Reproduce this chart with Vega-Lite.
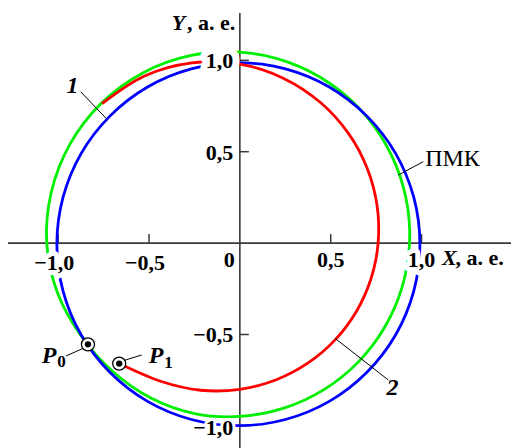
{
  "$schema": "https://vega.github.io/schema/vega-lite/v6.json",
  "width": 511,
  "height": 448,
  "padding": 0,
  "autosize": {"type": "none"},
  "background": "white",
  "config": {"view": {"stroke": null}},
  "datasets": {
    "blue": [
      {"i": 0, "x": 0.991, "y": -0.006}, {"i": 1, "x": 0.957, "y": 0.251}, {"i": 2, "x": 0.857, "y": 0.491},
      {"i": 3, "x": 0.698, "y": 0.696}, {"i": 4, "x": 0.492, "y": 0.854}, {"i": 5, "x": 0.251, "y": 0.953},
      {"i": 6, "x": -0.008, "y": 0.987}, {"i": 7, "x": -0.267, "y": 0.953}, {"i": 8, "x": -0.508, "y": 0.854},
      {"i": 9, "x": -0.714, "y": 0.696}, {"i": 10, "x": -0.873, "y": 0.491}, {"i": 11, "x": -0.973, "y": 0.251},
      {"i": 12, "x": -1.007, "y": -0.006}, {"i": 13, "x": -0.973, "y": -0.263}, {"i": 14, "x": -0.873, "y": -0.503},
      {"i": 15, "x": -0.714, "y": -0.708}, {"i": 16, "x": -0.508, "y": -0.866}, {"i": 17, "x": -0.267, "y": -0.965},
      {"i": 18, "x": -0.008, "y": -0.999}, {"i": 19, "x": 0.251, "y": -0.965}, {"i": 20, "x": 0.492, "y": -0.866},
      {"i": 21, "x": 0.698, "y": -0.708}, {"i": 22, "x": 0.857, "y": -0.503}, {"i": 23, "x": 0.957, "y": -0.263}
    ],
    "green": [
      {"i": 0, "x": 0.934, "y": 0}, {"i": 1, "x": 0.9145, "y": 0.245}, {"i": 2, "x": 0.8342, "y": 0.4817},
      {"i": 3, "x": 0.6948, "y": 0.6948}, {"i": 4, "x": 0.5018, "y": 0.869}, {"i": 5, "x": 0.2652, "y": 0.9897},
      {"i": 6, "x": 0, "y": 1.0444}, {"i": 7, "x": -0.2746, "y": 1.025}, {"i": 8, "x": -0.5368, "y": 0.9297},
      {"i": 9, "x": -0.7638, "y": 0.7638}, {"i": 10, "x": -0.9358, "y": 0.5403}, {"i": 11, "x": -1.0379, "y": 0.2781},
      {"i": 12, "x": -1.0627, "y": 0}, {"i": 13, "x": -1.0048, "y": -0.2692}, {"i": 14, "x": -0.8753, "y": -0.5054},
      {"i": 15, "x": -0.7012, "y": -0.7012}, {"i": 16, "x": -0.4894, "y": -0.8476}, {"i": 17, "x": -0.2498, "y": -0.9323},
      {"i": 18, "x": 0, "y": -0.9483}, {"i": 19, "x": 0.2419, "y": -0.903}, {"i": 20, "x": 0.4628, "y": -0.8015},
      {"i": 21, "x": 0.651, "y": -0.651}, {"i": 22, "x": 0.797, "y": -0.4602}, {"i": 23, "x": 0.8933, "y": -0.2393}
    ],
    "red": [
      {"i": 0, "x": -0.664, "y": -0.659}, {"i": 1, "x": -0.4364, "y": -0.7559}, {"i": 2, "x": -0.2157, "y": -0.8049},
      {"i": 3, "x": 0, "y": -0.8}, {"i": 4, "x": 0.2003, "y": -0.7475}, {"i": 5, "x": 0.3777, "y": -0.6542},
      {"i": 6, "x": 0.5267, "y": -0.5267}, {"i": 7, "x": 0.6429, "y": -0.3712}, {"i": 8, "x": 0.7222, "y": -0.1935},
      {"i": 9, "x": 0.761, "y": 0}, {"i": 10, "x": 0.7556, "y": 0.2024}, {"i": 11, "x": 0.7023, "y": 0.4055},
      {"i": 12, "x": 0.5986, "y": 0.5986}, {"i": 13, "x": 0.4439, "y": 0.7689}, {"i": 14, "x": 0.2414, "y": 0.901},
      {"i": 15, "x": 0, "y": 0.9785}, {"i": 16, "x": -0.2641, "y": 0.9858}, {"i": 17, "x": -0.5273, "y": 0.9132},
      {"i": 18, "x": -0.7583, "y": 0.763}
    ],
    "axes": [
      {"x": -1.276, "y": 0, "x2": 1.4923, "y2": 0},
      {"x": 0, "y": -1.1209, "x2": 0, "y2": 1.259}
    ],
    "xticks": [{"x": -1, "y": 0}, {"x": -0.5, "y": 0}, {"x": 0.5, "y": 0}, {"x": 1, "y": 0}],
    "yticks": [{"x": 0, "y": -1}, {"x": 0, "y": -0.5}, {"x": 0, "y": 0.5}, {"x": 0, "y": 1}],
    "xlab": [
      {"x": -1, "y": 0, "t": "−1,0"}, {"x": -0.5, "y": 0, "t": "−0,5"}, {"x": 0, "y": 0, "t": "0"},
      {"x": 0.5, "y": 0, "t": "0,5"}, {"x": 1, "y": 0, "t": "1,0"}
    ],
    "ylab": [
      {"x": 0, "y": 1, "t": "1,0"}, {"x": 0, "y": 0.5, "t": "0,5"},
      {"x": 0, "y": -0.5, "t": "−0,5"}, {"x": 0, "y": -1, "t": "−1,0"}
    ],
    "leaders": [
      {"x": -0.876, "y": 0.828, "x2": -0.733, "y2": 0.679},
      {"x": 1.0096, "y": 0.4453, "x2": 0.872, "y2": 0.3725},
      {"x": 0.817, "y": -0.7489, "x2": 0.5237, "y2": -0.5208},
      {"x": -0.9568, "y": -0.6176, "x2": -0.8616, "y2": -0.5755},
      {"x": -0.6414, "y": -0.6433, "x2": -0.5402, "y2": -0.6121}
    ],
    "pts": [{"x": -0.836, "y": -0.554, "t": "P0"}, {"x": -0.664, "y": -0.659, "t": "P1"}],
    "ital": [
      {"x": -0.921, "y": 0.857, "t": "1"}, {"x": 0.84, "y": -0.7927, "t": "2"},
      {"x": -1.05, "y": -0.62, "t": "P"}, {"x": -0.4615, "y": -0.6176, "t": "P"}
    ],
    "subs": [{"x": -0.981, "y": -0.653, "t": "0"}, {"x": -0.3927, "y": -0.6532, "t": "1"}],
    "pmk": [{"x": 1.1703, "y": 0.4628, "t": "ПМК"}],
    "titleItal": [{"x": 1.1126, "y": -0.0842, "t": "X"}, {"x": -0.3751, "y": 1.2024, "t": "Y"}],
    "titleRest": [{"x": 1.1868, "y": -0.0842, "t": ", а. е."}, {"x": -0.2909, "y": 1.2024, "t": ", а. е."}]
  },
  "encoding": {
    "x": {"field": "x", "type": "quantitative", "scale": {"domain": [-1.32003, 1.49229], "nice": false, "zero": false}, "axis": null},
    "y": {"field": "y", "type": "quantitative", "scale": {"domain": [-1.1209, 1.32987], "nice": false, "zero": false}, "axis": null}
  },
  "layer": [
    {"data": {"name": "axes"}, "mark": {"type": "rule", "stroke": "#3a3a3a", "strokeWidth": 1.6},
     "encoding": {"x2": {"field": "x2"}, "y2": {"field": "y2"}}},
    {"data": {"name": "xticks"}, "mark": {"type": "tick", "orient": "vertical", "color": "#3a3a3a", "size": 9, "thickness": 1.5, "yOffset": -4.5, "opacity": 1}, "encoding": {}},
    {"data": {"name": "yticks"}, "mark": {"type": "tick", "orient": "horizontal", "color": "#3a3a3a", "size": 9, "thickness": 1.5, "xOffset": 4.5, "opacity": 1}, "encoding": {}},
    {"data": {"name": "green"}, "mark": {"type": "line", "stroke": "#00ee00", "strokeWidth": 2.8, "interpolate": "cardinal-closed"},
     "encoding": {"order": {"field": "i", "type": "quantitative"}}},
    {"data": {"name": "blue"}, "mark": {"type": "line", "stroke": "#0000ff", "strokeWidth": 2.8, "interpolate": "cardinal-closed"},
     "encoding": {"order": {"field": "i", "type": "quantitative"}}},
    {"data": {"name": "red"}, "mark": {"type": "line", "stroke": "#ff0000", "strokeWidth": 2.8, "interpolate": "cardinal"},
     "encoding": {"order": {"field": "i", "type": "quantitative"}}},
    {"data": {"name": "xlab"}, "transform": [{"filter": "datum.x == -1"}],
     "mark": {"type": "text", "font": "Liberation Serif", "fontWeight": "bold", "fontSize": 22, "align": "center", "baseline": "middle", "dx": -4, "dy": 20, "fill": "white", "stroke": "white", "strokeWidth": 10, "strokeJoin": "round"},
     "encoding": {"text": {"field": "t"}}},
    {"data": {"name": "xlab"}, "transform": [{"filter": "datum.x == 1"}],
     "mark": {"type": "text", "font": "Liberation Serif", "fontWeight": "bold", "fontSize": 22, "align": "center", "baseline": "middle", "dx": 0, "dy": 16.5, "fill": "white", "stroke": "white", "strokeWidth": 10, "strokeJoin": "round"},
     "encoding": {"text": {"field": "t"}}},
    {"data": {"name": "ylab"}, "transform": [{"filter": "datum.y == 1"}],
     "mark": {"type": "text", "font": "Liberation Serif", "fontWeight": "bold", "fontSize": 22, "align": "right", "baseline": "middle", "dx": -6.5, "dy": 1, "fill": "white", "stroke": "white", "strokeWidth": 14, "strokeJoin": "round"},
     "encoding": {"text": {"field": "t"}}},
    {"data": {"name": "ylab"}, "transform": [{"filter": "datum.y == -1"}],
     "mark": {"type": "text", "font": "Liberation Serif", "fontWeight": "bold", "fontSize": 22, "align": "right", "baseline": "middle", "dx": -6.5, "dy": 2.5, "fill": "white", "stroke": "white", "strokeWidth": 6, "strokeJoin": "round"},
     "encoding": {"text": {"field": "t"}}},
    {"data": {"name": "xlab"}, "transform": [{"filter": "datum.x < 0"}],
     "mark": {"type": "text", "font": "Liberation Serif", "fontWeight": "bold", "fontSize": 22, "align": "center", "baseline": "middle", "dx": -4, "dy": 20, "color": "black"},
     "encoding": {"text": {"field": "t"}}},
    {"data": {"name": "xlab"}, "transform": [{"filter": "datum.x == 0"}],
     "mark": {"type": "text", "font": "Liberation Serif", "fontWeight": "bold", "fontSize": 22, "align": "right", "baseline": "middle", "dx": -5, "dy": 17, "color": "black"},
     "encoding": {"text": {"field": "t"}}},
    {"data": {"name": "xlab"}, "transform": [{"filter": "datum.x > 0"}],
     "mark": {"type": "text", "font": "Liberation Serif", "fontWeight": "bold", "fontSize": 22, "align": "center", "baseline": "middle", "dx": 0, "dy": 16.5, "color": "black"},
     "encoding": {"text": {"field": "t"}}},
    {"data": {"name": "ylab"}, "transform": [{"filter": "datum.y > -1"}],
     "mark": {"type": "text", "font": "Liberation Serif", "fontWeight": "bold", "fontSize": 22, "align": "right", "baseline": "middle", "dx": -6.5, "dy": 1, "color": "black"},
     "encoding": {"text": {"field": "t"}}},
    {"data": {"name": "ylab"}, "transform": [{"filter": "datum.y == -1"}],
     "mark": {"type": "text", "font": "Liberation Serif", "fontWeight": "bold", "fontSize": 22, "align": "right", "baseline": "middle", "dx": -6.5, "dy": 2.5, "color": "black"},
     "encoding": {"text": {"field": "t"}}},
    {"data": {"name": "leaders"}, "mark": {"type": "rule", "stroke": "black", "strokeWidth": 1},
     "encoding": {"x2": {"field": "x2"}, "y2": {"field": "y2"}}},
    {"data": {"name": "pts"}, "mark": {"type": "circle", "fill": "white", "stroke": "black", "strokeWidth": 1.3, "size": 170, "opacity": 1}, "encoding": {}},
    {"data": {"name": "pts"}, "mark": {"type": "circle", "fill": "black", "size": 40, "opacity": 1}, "encoding": {}},
    {"data": {"name": "ital"},
     "mark": {"type": "text", "font": "Liberation Serif", "fontWeight": "bold", "fontStyle": "italic", "fontSize": 24, "align": "center", "baseline": "middle", "color": "black"},
     "encoding": {"text": {"field": "t"}}},
    {"data": {"name": "subs"},
     "mark": {"type": "text", "font": "Liberation Serif", "fontWeight": "bold", "fontSize": 17, "align": "center", "baseline": "middle", "color": "black"},
     "encoding": {"text": {"field": "t"}}},
    {"data": {"name": "pmk"},
     "mark": {"type": "text", "font": "Liberation Serif", "fontSize": 24, "align": "center", "baseline": "middle", "color": "black"},
     "encoding": {"text": {"field": "t"}}},
    {"data": {"name": "titleItal"},
     "mark": {"type": "text", "font": "Liberation Serif", "fontWeight": "bold", "fontStyle": "italic", "fontSize": 22, "align": "left", "baseline": "middle", "color": "black"},
     "encoding": {"text": {"field": "t"}}},
    {"data": {"name": "titleRest"},
     "mark": {"type": "text", "font": "Liberation Serif", "fontWeight": "bold", "fontSize": 22, "align": "left", "baseline": "middle", "color": "black"},
     "encoding": {"text": {"field": "t"}}}
  ]
}
